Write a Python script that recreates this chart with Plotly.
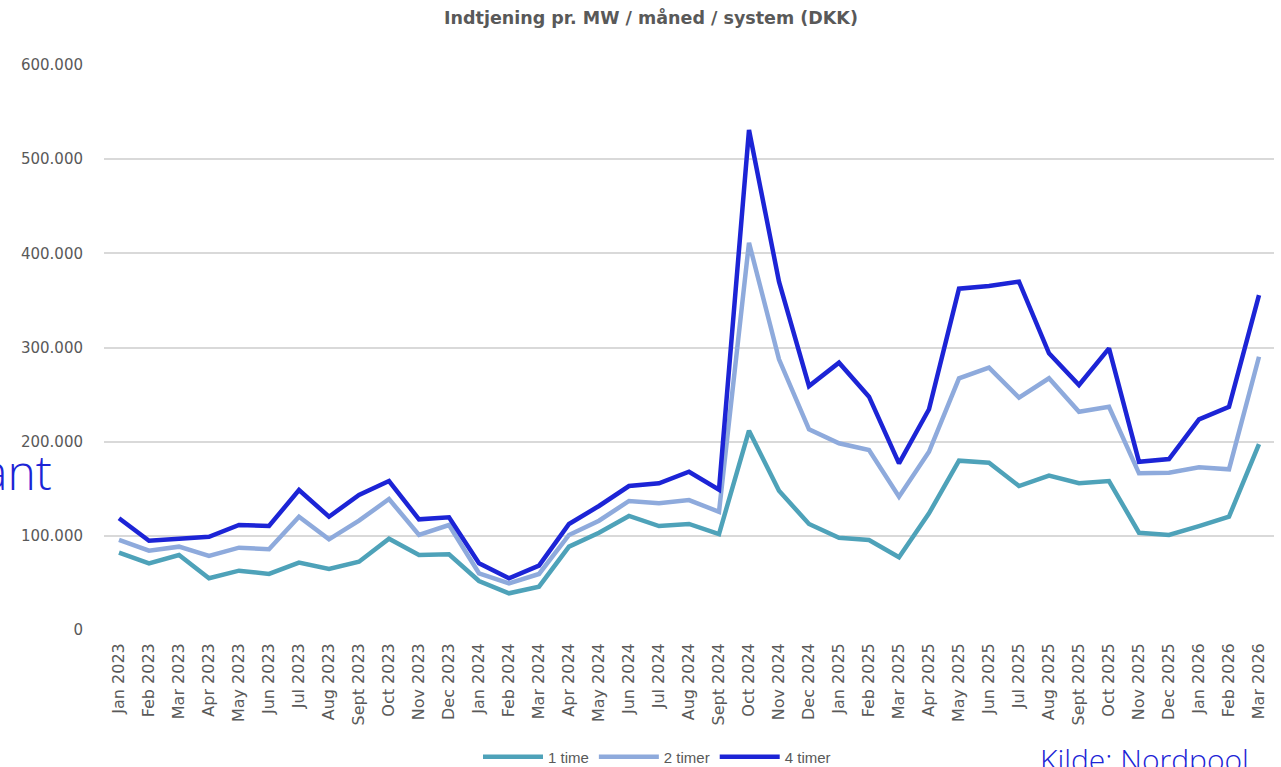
import plotly.graph_objects as go

months = ["Jan 2023", "Feb 2023", "Mar 2023", "Apr 2023", "May 2023", "Jun 2023", "Jul 2023",
          "Aug 2023", "Sept 2023", "Oct 2023", "Nov 2023", "Dec 2023",
          "Jan 2024", "Feb 2024", "Mar 2024", "Apr 2024", "May 2024", "Jun 2024", "Jul 2024",
          "Aug 2024", "Sept 2024", "Oct 2024", "Nov 2024", "Dec 2024",
          "Jan 2025", "Feb 2025", "Mar 2025", "Apr 2025", "May 2025", "Jun 2025", "Jul 2025",
          "Aug 2025", "Sept 2025", "Oct 2025", "Nov 2025", "Dec 2025",
          "Jan 2026", "Feb 2026", "Mar 2026"]

time_1 = [82100, 70800, 79600, 54900, 63000, 59500, 71500, 64800, 72500, 97000, 79600, 80400,
          52000, 39000, 46000, 88500, 103300, 121100, 110400, 112600, 101900, 211600, 147900, 112600,
          98000, 95600, 77200, 123900, 179800, 177700, 152900, 163900, 155800, 158200, 103300, 100900,
          110400, 120300, 197500]

timer_2 = [95600, 84200, 88500, 78600, 87400, 85700, 120300, 96300, 116100, 139100, 100900, 111500,
           60200, 49600, 59500, 100900, 116100, 137000, 134500, 138000, 125600, 411300, 287500, 213100,
           198300, 191100, 141600, 189300, 267300, 278600, 246700, 267300, 231800, 237100, 166400, 167000,
           172800, 170600, 290200]

timer_4 = [118600, 94800, 97000, 99000, 111500, 110400, 148700, 120300, 143400, 158200, 117500, 119700,
           70800, 54900, 68300, 112600, 131700, 152900, 155800, 168100, 149000, 531000, 369900, 259000,
           283900, 247800, 177000, 234400, 362500, 365300, 369900, 293800, 260200, 299100, 178700, 181600,
           223700, 237100, 355700]

y_ticks = [0, 100000, 200000, 300000, 400000, 500000, 600000]

series = [
    ("1 time", time_1, "#4ea2b9"),
    ("2 timer", timer_2, "#8eaadc"),
    ("4 timer", timer_4, "#1c24d6"),
]

fig = go.Figure()
for name, vals, col in series:
    fig.add_trace(go.Scatter(x=months, y=vals, mode="lines", name=name,
                             line=dict(color=col, width=4.5, shape="linear"),
                             hoverinfo="x+y+name"))

FONT = "DejaVu Sans"
GRAY = "#595959"

L, R, T, B = 104, 7, 65, 137
PW = 1281 - L - R
PH = 767 - T - B


def px_x(px):
    return (px - L) / PW


def px_y(py):
    return (767 - B - py) / PH


fig.update_layout(
    width=1281, height=767,
    margin=dict(l=L, r=R, t=T, b=B, autoexpand=False),
    paper_bgcolor="white", plot_bgcolor="white",
    separators=",.",
    font=dict(family=FONT, color=GRAY, size=13),
    title=dict(text="<b>Indtjening pr. MW / måned / system (DKK)</b>",
               x=651 / 1281, xanchor="center", y=1 - 18 / 767, yanchor="middle",
               font=dict(family=FONT, size=17.5, color=GRAY)),
    xaxis=dict(type="category", range=[-0.5, len(months) - 0.5],
               tickangle=-90, showgrid=False, zeroline=False, automargin=False,
               showline=False, ticks="", tickfont=dict(family=FONT, size=16, color=GRAY),
               ticklabelstandoff=9),
    yaxis=dict(range=[0, 600000], tickvals=y_ticks, tickformat=",d", automargin=False,
               showgrid=True, gridcolor="#d9d9d9", gridwidth=1.5,
               zeroline=False, showline=False, ticks="",
               tickfont=dict(family=FONT, size=15, color=GRAY), ticklabelstandoff=20),
    legend=dict(orientation="h", x=px_x(657), xanchor="center",
                y=px_y(757), yanchor="middle",
                font=dict(family="Liberation Sans Narrow, Liberation Sans", size=15, color=GRAY),
                itemwidth=60, bgcolor="rgba(0,0,0,0)", traceorder="normal"),
    showlegend=True,
)

fig.add_annotation(text="ant", xref="paper", yref="paper",
                   x=px_x(54), xanchor="right",
                   y=px_y(471), yanchor="middle",
                   showarrow=False,
                   font=dict(family="Open Sans", size=48, color="#1c24d6", weight=300))

fig.add_annotation(text="Kilde: Nordpool", xref="paper", yref="paper",
                   x=px_x(1038), xanchor="left",
                   y=px_y(759), yanchor="middle",
                   showarrow=False,
                   font=dict(family="Open Sans", size=30, color="#1c24d6", weight=300))

fig.write_html("out.html", config={"displayModeBar": False},
               post_script="document.body.style.margin='0';document.body.style.padding='0';")
